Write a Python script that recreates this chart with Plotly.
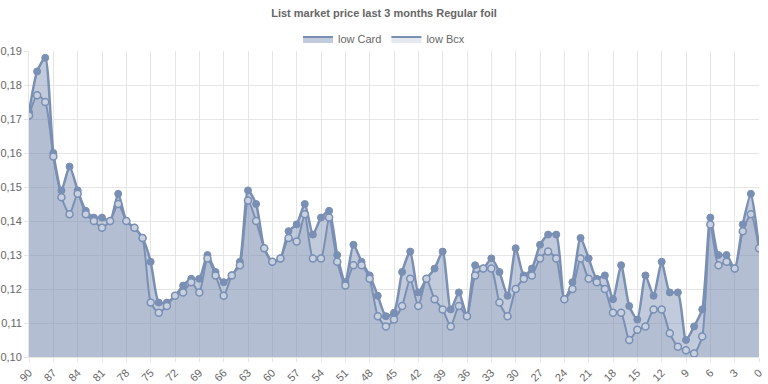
import plotly.graph_objects as go

days = list(range(90, -1, -1))
tick_days = list(range(90, -1, -3))
tick_labels = [str(d) for d in tick_days]

low_card = [0.172, 0.184, 0.188, 0.160, 0.149, 0.156, 0.149, 0.143, 0.141, 0.141,
            0.140, 0.148, 0.140, 0.138, 0.135, 0.128, 0.116, 0.116, 0.118, 0.121,
            0.123, 0.123, 0.130, 0.125, 0.122, 0.124, 0.128, 0.149, 0.145, 0.132,
            0.128, 0.129, 0.137, 0.139, 0.145, 0.136, 0.141, 0.143, 0.130, 0.122,
            0.133, 0.128, 0.124, 0.118, 0.112, 0.113, 0.125, 0.131, 0.119, 0.123,
            0.126, 0.131, 0.114, 0.119, 0.112, 0.127, 0.126, 0.129, 0.125, 0.118,
            0.132, 0.124, 0.126, 0.133, 0.136, 0.136, 0.117, 0.122, 0.135, 0.129,
            0.123, 0.124, 0.117, 0.127, 0.115, 0.111, 0.124, 0.118, 0.128, 0.119,
            0.119, 0.105, 0.109, 0.114, 0.141, 0.130, 0.130, 0.126, 0.139, 0.148,
            0.132]

low_bcx = [0.171, 0.177, 0.175, 0.159, 0.147, 0.142, 0.148, 0.142, 0.140, 0.138,
           0.140, 0.145, 0.140, 0.138, 0.135, 0.116, 0.113, 0.115, 0.118, 0.119,
           0.122, 0.119, 0.129, 0.124, 0.118, 0.124, 0.127, 0.146, 0.140, 0.132,
           0.128, 0.129, 0.135, 0.134, 0.142, 0.129, 0.129, 0.141, 0.128, 0.121,
           0.127, 0.127, 0.123, 0.112, 0.109, 0.111, 0.115, 0.123, 0.115, 0.123,
           0.117, 0.114, 0.109, 0.115, 0.112, 0.124, 0.126, 0.126, 0.116, 0.112,
           0.120, 0.123, 0.124, 0.129, 0.131, 0.129, 0.117, 0.120, 0.129, 0.123,
           0.122, 0.120, 0.113, 0.113, 0.105, 0.108, 0.109, 0.114, 0.114, 0.107,
           0.103, 0.102, 0.101, 0.106, 0.139, 0.127, 0.128, 0.126, 0.137, 0.142,
           0.132]

line_col = "rgb(122,143,180)"
card_fill = "rgba(120,140,175,0.45)"
bcx_fill = "rgba(120,140,175,0.2)"

fig = go.Figure()
fig.add_trace(go.Scatter(
    x=days, y=low_card, name="low Card", mode="lines+markers", showlegend=False,
    line=dict(color=line_col, width=2.5, shape="spline", smoothing=0.6),
    marker=dict(size=7, color=line_col, line=dict(color=line_col, width=1)),
    fill="tozeroy", fillcolor=card_fill,
))
fig.add_trace(go.Scatter(
    x=days, y=low_bcx, name="low Bcx", mode="lines+markers", showlegend=False,
    line=dict(color=line_col, width=2, shape="spline", smoothing=0.6),
    marker=dict(size=7, color="rgb(200,209,224)", line=dict(color=line_col, width=1.5)),
    fill="tozeroy", fillcolor=bcx_fill,
))
# legend entries (box style)
fig.add_trace(go.Scatter(
    x=[None], y=[None], name="low Card", mode="lines", fill="toself",
    fillcolor=card_fill, line=dict(color=line_col, width=2),
))
fig.add_trace(go.Scatter(
    x=[None], y=[None], name="low Bcx", mode="lines", fill="toself",
    fillcolor=bcx_fill, line=dict(color=line_col, width=2),
))

fig.update_layout(
    width=768, height=384,
    margin=dict(l=29, r=9, t=51, b=27, autoexpand=False),
    paper_bgcolor="white", plot_bgcolor="white",
    separators=",.",
    font=dict(family="Liberation Sans, Arial, sans-serif", size=11, color="#666"),
    title=dict(text="<b>List market price last 3 months Regular foil</b>",
               x=0.5, xanchor="center", y=1 - 13 / 384, yanchor="middle",
               font=dict(size=11, color="#666")),
    legend=dict(orientation="h", x=0.5, xanchor="center", xref="container",
                y=1 - 39 / 384, yanchor="middle", yref="container",
                font=dict(size=11, color="#666"), bgcolor="rgba(0,0,0,0)",
                itemwidth=30),
    showlegend=True,
)
fig.update_xaxes(
    range=[90, 0], tickmode="array", tickvals=tick_days, ticktext=tick_labels,
    tickangle=-45, showgrid=True, gridcolor="#e5e5e5", zeroline=False, automargin=False,
    showline=True, linecolor="#e5e5e5", ticks="outside", ticklen=4, tickcolor="#e5e5e5",
    tickfont=dict(size=11, color="#666"),
)
fig.update_yaxes(
    range=[0.10, 0.19], dtick=0.01, tickformat=".2f", showgrid=True, gridcolor="#e5e5e5",
    zeroline=False, showline=True, linecolor="#e5e5e5", ticks="outside", ticklen=4,
    automargin=False, tickcolor="#e5e5e5", tickfont=dict(size=11, color="#666"),
)

fig.write_html(
    "out.html",
    config={"displayModeBar": False},
    post_script="document.body.style.margin='0';document.body.style.padding='0';",
)
